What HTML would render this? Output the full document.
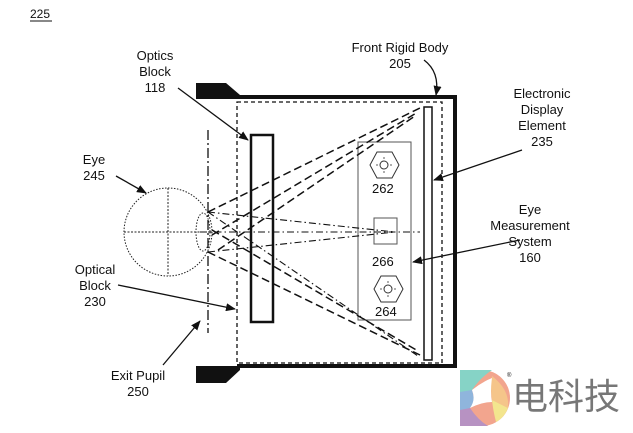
<!DOCTYPE html>
<html><head><style>
body{margin:0;background:#fff;width:633px;height:433px;overflow:hidden}
svg{display:block}
text{font-family:"Liberation Sans",Arial,sans-serif;font-size:13px;fill:#111}
</style></head><body>
<svg width="633" height="433" viewBox="0 0 633 433" xmlns="http://www.w3.org/2000/svg">
<defs><marker id="a" markerWidth="10" markerHeight="8" refX="9" refY="4" orient="auto" markerUnits="userSpaceOnUse"><path d="M0,0 L10,4 L0,8 Z" fill="#111"/></marker></defs>
<text x="30" y="18" style="font-size:12px">225</text>
<line x1="30" y1="21" x2="52" y2="21" stroke="#111" stroke-width="1"/>
<path d="M237,97 L455,97 L455,366 L237,366" fill="none" stroke="#111" stroke-width="4"/>
<path d="M196,83 L226,83 L240,95 L240,99 L196,99 Z" fill="#111"/>
<path d="M196,366 L240,366 L240,370 L226,383 L196,383 Z" fill="#111"/>
<rect x="237" y="102" width="205" height="261" fill="none" stroke="#111" stroke-width="1.3" stroke-dasharray="4,3"/>
<rect x="251" y="135" width="22" height="187" fill="#fff" stroke="#111" stroke-width="2.5"/>
<rect x="424" y="107" width="8" height="253" fill="none" stroke="#111" stroke-width="1.5"/>
<rect x="358" y="142" width="53" height="178" fill="none" stroke="#555" stroke-width="1"/>
<rect x="374" y="218" width="23" height="26" fill="none" stroke="#555" stroke-width="1"/>
<polygon points="377,152 392,152 399,165 392,178 377,178 370,165" fill="none" stroke="#333"/>
<circle cx="384" cy="165" r="4" fill="none" stroke="#333"/>
<polygon points="381,276 396,276 403,289 396,302 381,302 374,289" fill="none" stroke="#333"/>
<circle cx="388" cy="289" r="4" fill="none" stroke="#333"/>
<g stroke="#333" stroke-width="0.8">
<line x1="384" y1="157" x2="384" y2="159"/><line x1="384" y1="171" x2="384" y2="173"/><line x1="376" y1="165" x2="378" y2="165"/><line x1="390" y1="165" x2="392" y2="165"/>
<line x1="388" y1="281" x2="388" y2="283"/><line x1="388" y1="295" x2="388" y2="297"/><line x1="380" y1="289" x2="382" y2="289"/><line x1="394" y1="289" x2="396" y2="289"/>
</g>
<text x="372" y="193">262</text>
<text x="372" y="266">266</text>
<text x="375" y="316">264</text>
<circle cx="168" cy="232" r="44" fill="none" stroke="#222" stroke-width="1" stroke-dasharray="1.5,1.5"/>
<line x1="124" y1="232" x2="212" y2="232" stroke="#222" stroke-dasharray="2,1.5"/>
<line x1="168" y1="188" x2="168" y2="276" stroke="#222" stroke-dasharray="2,1.5"/>
<ellipse cx="203" cy="232" rx="7" ry="19" fill="none" stroke="#222" stroke-dasharray="1.5,1.5"/>
<line x1="208" y1="130" x2="208" y2="333" stroke="#111" stroke-width="1.3" stroke-dasharray="10,3,2,3"/>
<g fill="none" stroke="#111" stroke-width="1.5" stroke-dasharray="8,4">
<line x1="208" y1="212" x2="420" y2="108"/>
<line x1="212" y1="235" x2="418" y2="112"/>
<line x1="218" y1="250" x2="415" y2="116"/>
<line x1="208" y1="252" x2="420" y2="355"/>
<line x1="212" y1="230" x2="418" y2="351"/>
</g>
<g fill="none" stroke="#111" stroke-width="1.1" stroke-dasharray="7,3,1.5,3">
<line x1="208" y1="212" x2="395" y2="232"/>
<line x1="200" y1="232" x2="420" y2="232"/>
<line x1="208" y1="252" x2="395" y2="232"/>
<line x1="208" y1="212" x2="418" y2="356"/>
</g>
<g text-anchor="middle">
<text x="155" y="60">Optics</text><text x="155" y="76">Block</text><text x="155" y="92">118</text>
<text x="400" y="52">Front Rigid Body</text><text x="400" y="68">205</text>
<text x="542" y="98">Electronic</text><text x="542" y="114">Display</text><text x="542" y="130">Element</text><text x="542" y="146">235</text>
<text x="94" y="164">Eye</text><text x="94" y="180">245</text>
<text x="530" y="214">Eye</text><text x="530" y="230">Measurement</text><text x="530" y="246">System</text><text x="530" y="262">160</text>
<text x="95" y="274">Optical</text><text x="95" y="290">Block</text><text x="95" y="306">230</text>
<text x="138" y="380">Exit Pupil</text><text x="138" y="396">250</text>
</g>
<g fill="none" stroke="#111" stroke-width="1.3" marker-end="url(#a)">
<line x1="178" y1="88" x2="248" y2="140"/>
<path d="M424,60 Q440,72 436,95"/>
<line x1="522" y1="150" x2="434" y2="180"/>
<line x1="116" y1="176" x2="146" y2="193"/>
<line x1="520" y1="240" x2="413" y2="262"/>
<line x1="118" y1="285" x2="235" y2="309"/>
<line x1="163" y1="365" x2="200" y2="321"/>
</g>
<g transform="translate(460,370)">
<path d="M0,0 L22,0 A28,28 0 0 1 22,56 L0,56 Z" fill="#f2a58e"/>
<path d="M0,0 L32,0 Q20,8 12,20 L0,24 Z" fill="#86d3c6"/>
<path d="M0,22 L12,20 Q16,32 10,38 L0,42 Z" fill="#8fb5dc"/>
<path d="M0,40 L10,38 Q18,50 28,56 L0,56 Z" fill="#b792c2"/>
<path d="M32,6 Q50,20 48,38 Q40,34 32,30 Q30,18 32,6Z" fill="#f5c58a"/>
<path d="M32,30 Q40,34 48,38 Q44,48 36,52 Q33,40 32,30Z" fill="#f3e58e"/>
<path d="M12,20 Q22,12 32,8 Q30,22 32,32 Q22,32 10,38 Q16,30 12,20Z" fill="#fff"/>
</g>
<text x="507" y="377" style="font-size:6px">®</text>
<text x="512" y="409" style="font-family:'Liberation Sans','Noto Sans CJK SC',sans-serif;font-size:36px;fill:#777">电科技</text>
</svg>
</body></html>
